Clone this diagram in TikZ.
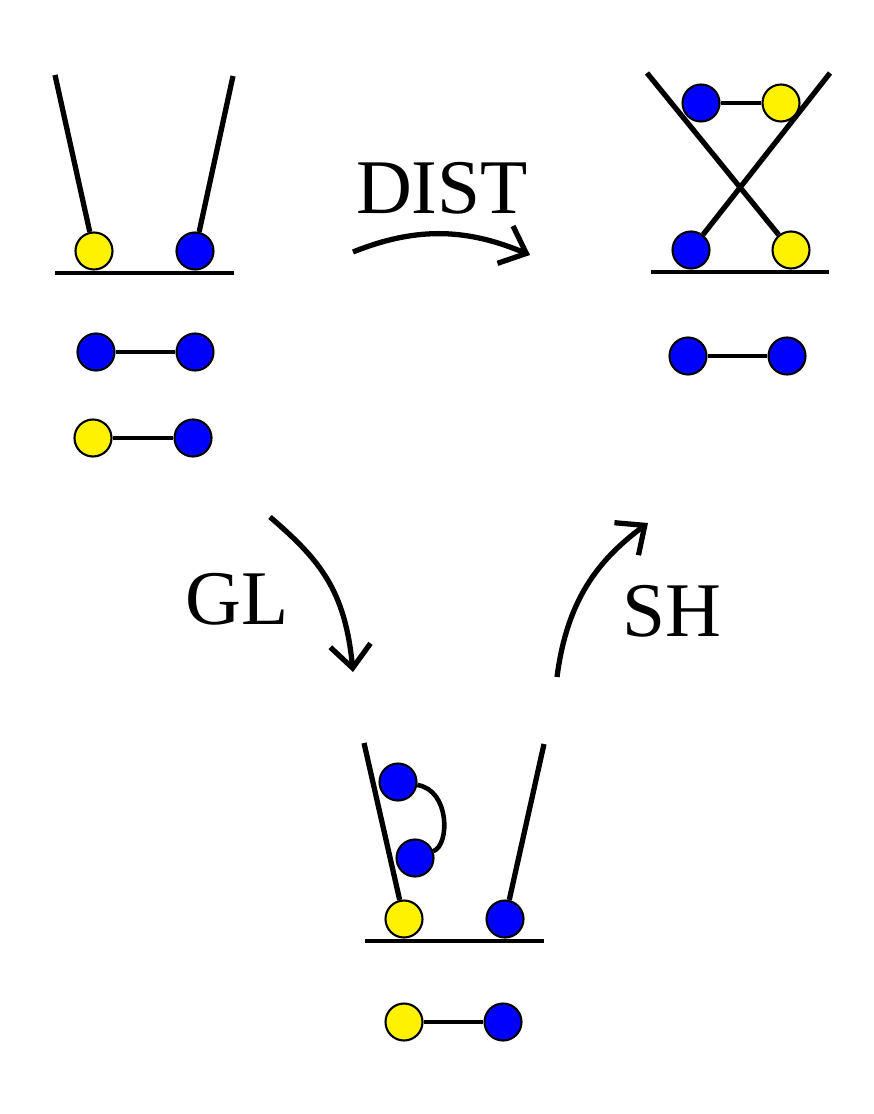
\documentclass[tikz,border=0pt]{standalone}
\usepackage{fontspec}
\setmainfont{Liberation Serif}
\usetikzlibrary{arrows.meta}

\tikzset{
  ball/.style={circle, draw=black, line width=1.2pt, minimum size=0.74cm, inner sep=0pt},
  yball/.style={ball, fill=yellow},
  bball/.style={ball, fill=blue},
  wall/.style={line width=3pt},
  floor/.style={line width=2.8pt},
  link/.style={line width=2.6pt},
  move/.style={line width=3pt, -{Straight Barb[length=13pt, width=23pt]}},
  lbl/.style={font=\fontsize{44}{48}\selectfont}
}

\begin{document}
\begin{tikzpicture}[x=0.02cm, y=-0.02cm]
        \useasboundingbox (0,0) rectangle (874,1114);

        % Start: two chains, two pairs
        \node[yball] (sy) at (94,251) {};
        \node[bball] (sb) at (195,251) {};
        \draw[floor] (55,273) -- (234,273);
        \draw[wall] (55,75) -- (sy);
        \draw[wall] (233,76) -- (sb);
        \node[bball] (p1a) at (96,352) {};
        \node[bball] (p1b) at (195,352) {};
        \draw[link] (p1a) -- (p1b);
        \node[yball] (p2a) at (93,438) {};
        \node[bball] (p2b) at (193,438) {};
        \draw[link] (p2a) -- (p2b);

        % After DIST: crossed chains
        \node[bball] (db) at (691,250) {};
        \node[yball] (dy) at (791,250) {};
        \draw[floor] (651,272) -- (829,272);
        \draw[wall] (647,73) -- (dy);
        \draw[wall] (830,73) -- (db);
        \node[bball] (tb) at (701,103) {};
        \node[yball] (ty) at (781,103) {};
        \draw[link] (tb) -- (ty);
        \node[bball] (q1a) at (688,356) {};
        \node[bball] (q1b) at (787,356) {};
        \draw[link] (q1a) -- (q1b);

        % After GL: looped pair on the left chain
        \node[yball] (gy) at (404,919) {};
        \node[bball] (gb) at (505,919) {};
        \draw[floor] (365,941) -- (544,941);
        \draw[wall] (364,743) -- (gy);
        \draw[wall] (544,744) -- (gb);
        \node[bball] (lu) at (398,782) {};
        \node[bball] (ll) at (415,858) {};
        \draw[link] (lu) .. controls (450,790) and (450,845) .. (ll);
        \node[yball] (r1a) at (404,1022) {};
        \node[bball] (r1b) at (503,1022) {};
        \draw[link] (r1a) -- (r1b);

        % Moves
        \coordinate (d0) at (353,252);
        \coordinate (d1) at (530,255);
        \draw[move] (d0) .. controls (420,225) and (470,230) .. (d1);
        \node[lbl] (dist) at (442,188) {DIST};

        \coordinate (g0) at (270,517);
        \coordinate (g1) at (353,672);
        \draw[move] (g0) .. controls (320,560) and (345,590) .. (g1);
        \node[lbl] (gl) at (237,599) {GL};

        \coordinate (h0) at (557,677);
        \coordinate (h1) at (648,523);
        \draw[move] (h0) .. controls (567,600) and (598,560) .. (h1);
        \node[lbl] (sh) at (672,611) {SH};
\end{tikzpicture}
\end{document}
